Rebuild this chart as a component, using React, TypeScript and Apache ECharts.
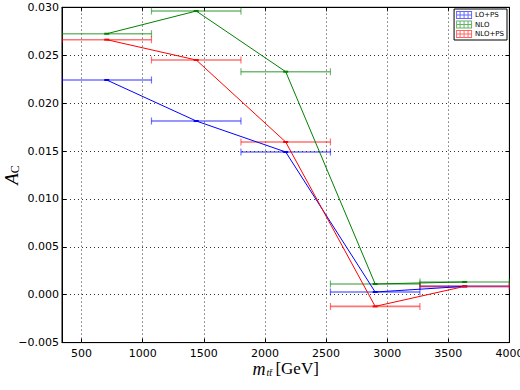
import React, { useEffect, useRef } from "react";
import * as echarts from "echarts";

const binCenters = [706, 1438, 2170, 2902, 3634];
const binHalfWidth = 366;
const seriesNames = ["LO+PS", "NLO", "NLO+PS"];
const seriesColors = ["#0000ff", "#008000", "#ff0000"];
const loPs = [0.02241, 0.01813, 0.0149, 0.00028, 0.00087];
const nlo = [0.02724, 0.02961, 0.02328, 0.00112, 0.00133];
const nloPs = [0.02662, 0.0245, 0.01594, -0.00122, 0.00087];
const xTicks = [500, 1000, 1500, 2000, 2500, 3000, 3500, 4000];

const legendIcon =
  "path://M0,0H16V1H0Z M0,7H16V8H0Z M0,0H1V8H0Z M15,0H16V8H15Z M7.5,0H8.5V8H7.5Z M0,3.5H16V4.5H0Z M3.5,0H4.5V8H3.5Z M11.5,0H12.5V8H11.5Z";

export default function App() {
  const ref = useRef<HTMLDivElement>(null);
  useEffect(() => {
    if (!ref.current) return;
    const chart = echarts.init(ref.current, null, { renderer: "svg" });
    const allValues = [loPs, nlo, nloPs];
    const series: any[] = [];
    allValues.forEach((vals, i) => {
      const data = binCenters.map((x, j) => [x, vals[j]]);
      series.push({
        type: "custom",
        name: seriesNames[i] + "_err",
        data,
        z: 2 + i,
        clip: true,
        renderItem: (params: any, api: any) => {
          const x = api.value(0);
          const y = api.value(1);
          const p0 = api.coord([x - binHalfWidth, y]);
          const p1 = api.coord([x + binHalfWidth, y]);
          const style = { stroke: seriesColors[i], lineWidth: 1.6, opacity: 0.55 };
          return {
            type: "group",
            children: [
              { type: "line", shape: { x1: p0[0], y1: p0[1], x2: p1[0], y2: p1[1] }, style },
              { type: "line", shape: { x1: p0[0], y1: p0[1] - 3.5, x2: p0[0], y2: p0[1] + 3.5 }, style: { ...style, lineWidth: 1.2 } },
              { type: "line", shape: { x1: p1[0], y1: p1[1] - 3.5, x2: p1[0], y2: p1[1] + 3.5 }, style: { ...style, lineWidth: 1.2 } },
            ],
          };
        },
      });
    });
    allValues.forEach((vals, i) => {
      const s: any = {
        type: "line",
        name: seriesNames[i],
        data: binCenters.map((x, j) => [x, vals[j]]),
        symbol: "rect",
        symbolSize: [5, 2],
        showSymbol: true,
        itemStyle: { color: seriesColors[i] },
        lineStyle: { color: seriesColors[i], width: 1 },
        z: 5 + i,
      };
      if (i === 0) {
        s.markLine = {
          silent: true,
          symbol: "none",
          z: 1,
          label: { show: false },
          lineStyle: { color: "#333", type: [1, 3], width: 1 },
          data: xTicks.slice(0, -1).map((v) => ({ xAxis: v })),
        };
      }
      series.push(s);
    });

    const tickFont = { fontFamily: "DejaVu Sans", fontSize: 11, color: "#000" };
    chart.setOption({
      animation: false,
      backgroundColor: "#fff",
      grid: {
        left: 62,
        right: 10.6,
        top: 7.3,
        bottom: 47.4,
        show: true,
        borderColor: "#000",
        borderWidth: 1,
        containLabel: false,
        outerBoundsMode: "none",
      },
      legend: {
        data: seriesNames.map((n, i) => ({ name: n, icon: legendIcon, itemStyle: { color: seriesColors[i], opacity: 0.6 } })),
        orient: "vertical",
        right: 13,
        top: 9,
        itemWidth: 16,
        itemHeight: 8,
        itemGap: 1.5,
        padding: [2, 3, 2, 2],
        borderColor: "#000",
        borderWidth: 1,
        backgroundColor: "#fff",
        textStyle: { fontFamily: "DejaVu Sans", fontSize: 7, color: "#000", padding: [0, 0, 0, -2] },
        selectedMode: false,
      },
      xAxis: [
        {
          type: "value",
          min: 340,
          max: 4000,
          name: "{m|m}{s|tt\u0304} {g|[GeV]}",
          nameLocation: "middle",
          nameGap: 17,
          nameMoveOverlap: false,
          nameTextStyle: {
            rich: {
              m: { fontFamily: "Liberation Serif", fontStyle: "italic", fontSize: 18, color: "#000", lineHeight: 18 },
              s: { fontFamily: "Liberation Serif", fontStyle: "italic", fontSize: 10, color: "#000", padding: [8, 0, 0, 1], lineHeight: 18 },
              g: { fontFamily: "Liberation Serif", fontSize: 17, color: "#000", lineHeight: 18 },
            },
          },
          axisLine: { show: true, onZero: false, lineStyle: { color: "#000", width: 1 } },
          axisTick: { show: true, inside: true, length: 4, lineStyle: { color: "#000" }, customValues: xTicks },
          axisLabel: {
            ...tickFont,
            margin: 5,
            customValues: xTicks,
            showMinLabel: true,
            showMaxLabel: true,
            hideOverlap: false,
            formatter: (v: number) => String(v),
          },
          splitLine: { show: false },
        },
        {
          type: "value",
          position: "top",
          min: 340,
          max: 4000,
          axisLine: { show: true, onZero: false, lineStyle: { color: "#000" } },
          axisTick: { show: true, inside: true, length: 4, lineStyle: { color: "#000" }, customValues: xTicks },
          axisLabel: { show: false },
          splitLine: { show: false },
        },
      ],
      yAxis: [
        {
          type: "value",
          min: -0.005,
          max: 0.03,
          interval: 0.005,
          name: "{a|A}{c|C}",
          nameLocation: "middle",
          nameGap: 40,
          nameMoveOverlap: false,
          nameRotate: 90,
          nameTextStyle: {
            rich: {
              a: { fontFamily: "Liberation Serif", fontStyle: "italic", fontSize: 19, color: "#000", lineHeight: 22 },
              c: { fontFamily: "Liberation Serif", fontSize: 12, color: "#000", padding: [8, 0, 0, 0], lineHeight: 22 },
            },
          },
          axisLine: { show: true, onZero: false, lineStyle: { color: "#000" } },
          axisTick: { show: true, inside: true, length: 4, lineStyle: { color: "#000" } },
          axisLabel: {
            ...tickFont,
            margin: 3,
            formatter: (v: number) => (v < 0 ? "\u2212" + Math.abs(v).toFixed(3) : v.toFixed(3)),
          },
          splitLine: { show: true, lineStyle: { color: "#333", type: [1, 3], width: 1 } },
        },
        {
          type: "value",
          position: "right",
          min: -0.005,
          max: 0.03,
          interval: 0.005,
          axisLine: { show: true, onZero: false, lineStyle: { color: "#000" } },
          axisTick: { show: true, inside: true, length: 4, lineStyle: { color: "#000" } },
          axisLabel: { show: false },
          splitLine: { show: false },
        },
      ],
      series,
    });
    return () => chart.dispose();
  }, []);
  return <div ref={ref} style={{ width: 520, height: 390, position: "absolute", left: 0, top: 0 }} />;
}
